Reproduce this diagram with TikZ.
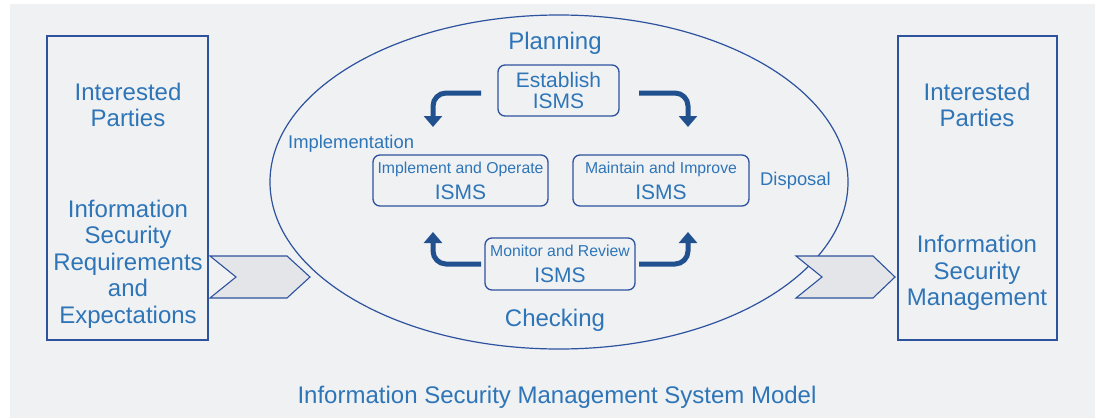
\documentclass[tikz,border=0pt]{standalone}
\usepackage{fontspec}
\setmainfont{Liberation Sans}
\usepackage{tikz}
\usetikzlibrary{positioning}
\usetikzlibrary{arrows.meta}
\definecolor{bgray}{HTML}{F0F1F3}
\definecolor{chevgray}{HTML}{E4E5E8}
\definecolor{lineblue}{HTML}{2D529E}
\definecolor{textblue}{HTML}{2E75B8}
\definecolor{arrowblue}{HTML}{21508F}
\newcommand{\bigtxt}{\fontsize{24}{26.5}\selectfont}
\newcommand{\midtxt}{\fontsize{18.4}{22}\selectfont}
\newcommand{\boxtxt}{\fontsize{21}{21.5}\selectfont}
\newcommand{\smalltxt}{\fontsize{15.8}{26}\selectfont}
\tikzset{
outer_box/.style={rectangle, draw=lineblue, line width=1.2pt, minimum width=161pt, minimum height=304pt},
stage_box/.style={rectangle, rounded corners=7pt, draw=lineblue, line width=1.3pt, inner sep=0pt},
label_text/.style={text=textblue, align=center, inner sep=0pt},
chevron/.style={draw=lineblue, fill=chevgray, line width=1.1pt, line join=miter},
cycle_arrow/.style={draw=arrowblue, line width=5pt, rounded corners=13pt, -{Triangle[width=18pt,length=11pt]}}
}
\begin{document}
\begin{tikzpicture}[x=1pt, y=-1pt]
    \useasboundingbox (0,0) rectangle (1095,418);
    \fill[bgray] (10,4) rectangle (1095,418);
    % side boxes
    \node[outer_box] (left_box) at (127.5,188) {};
    \node[outer_box, minimum width=159pt] (right_box) at (977.5,188) {};
    \node[label_text, font=\bigtxt] (left_parties) at (128,105) {Interested\\Parties};
    \node[label_text, font=\bigtxt] (left_req) at (128,264) {Information\\Security\\Requirements\\and\\Expectations};
    \node[label_text, font=\bigtxt] (right_parties) at (977,105) {Interested\\Parties};
    \node[label_text, font=\bigtxt] (right_mgmt) at (977,273) {Information\\Security\\Management};
    % ellipse
    \draw[lineblue, line width=1.2pt] (559,182) ellipse [x radius=289pt, y radius=167pt];
    % chevrons
    \draw[chevron] (210,256) -- (287,256) -- (310,277) -- (287,298) -- (210,298) -- (236,277) -- cycle;
    \draw[chevron] (796,256) -- (873,256) -- (895,277) -- (873,298) -- (796,298) -- (822,277) -- cycle;
    % stages
    \node[stage_box, minimum width=121pt, minimum height=51pt] (establish) at (558.5,90.5) {};
    \node[label_text, font=\boxtxt] (establish_text) at (establish) {Establish\\ISMS};
    \node[stage_box, minimum width=175pt, minimum height=51pt] (implement) at (460.5,180.5) {};
    \node[label_text, font=\smalltxt] (implement_text) at (implement) {Implement and Operate\\\boxtxt ISMS};
    \node[stage_box, minimum width=176pt, minimum height=51pt] (maintain) at (661,180.5) {};
    \node[label_text, font=\smalltxt] (maintain_text) at (maintain) {Maintain and Improve\\\boxtxt ISMS};
    \node[stage_box, minimum width=150pt, minimum height=52pt] (monitor) at (560,264) {};
    \node[label_text, font=\smalltxt] (monitor_text) at (monitor) {Monitor and Review\\\boxtxt ISMS};
    % phase labels
    \node[label_text, font=\bigtxt] (planning) at (555,43) {Planning};
    \node[label_text, font=\bigtxt] (checking) at (555,320) {Checking};
    \node[label_text, font=\midtxt, anchor=west] (implementation) at (288,144) {Implementation};
    \node[label_text, font=\midtxt, anchor=west] (disposal) at (760,181) {Disposal};
    \node[label_text, font=\bigtxt] (title) at (557,397) {Information Security Management System Model};
    % cycle arrows
    \coordinate (tl_start) at (481,93);
    \coordinate (tl_end) at (433,127);
    \coordinate (tr_start) at (639,93);
    \coordinate (tr_end) at (688,127);
    \coordinate (bl_start) at (481,264);
    \coordinate (bl_end) at (433,232);
    \coordinate (br_start) at (639,264);
    \coordinate (br_end) at (688,232);
    \draw[cycle_arrow] (tl_start) -- (tl_start -| tl_end) -- (tl_end);
    \draw[cycle_arrow] (tr_start) -- (tr_start -| tr_end) -- (tr_end);
    \draw[cycle_arrow] (bl_start) -- (bl_start -| bl_end) -- (bl_end);
    \draw[cycle_arrow] (br_start) -- (br_start -| br_end) -- (br_end);
\end{tikzpicture}
\end{document}
